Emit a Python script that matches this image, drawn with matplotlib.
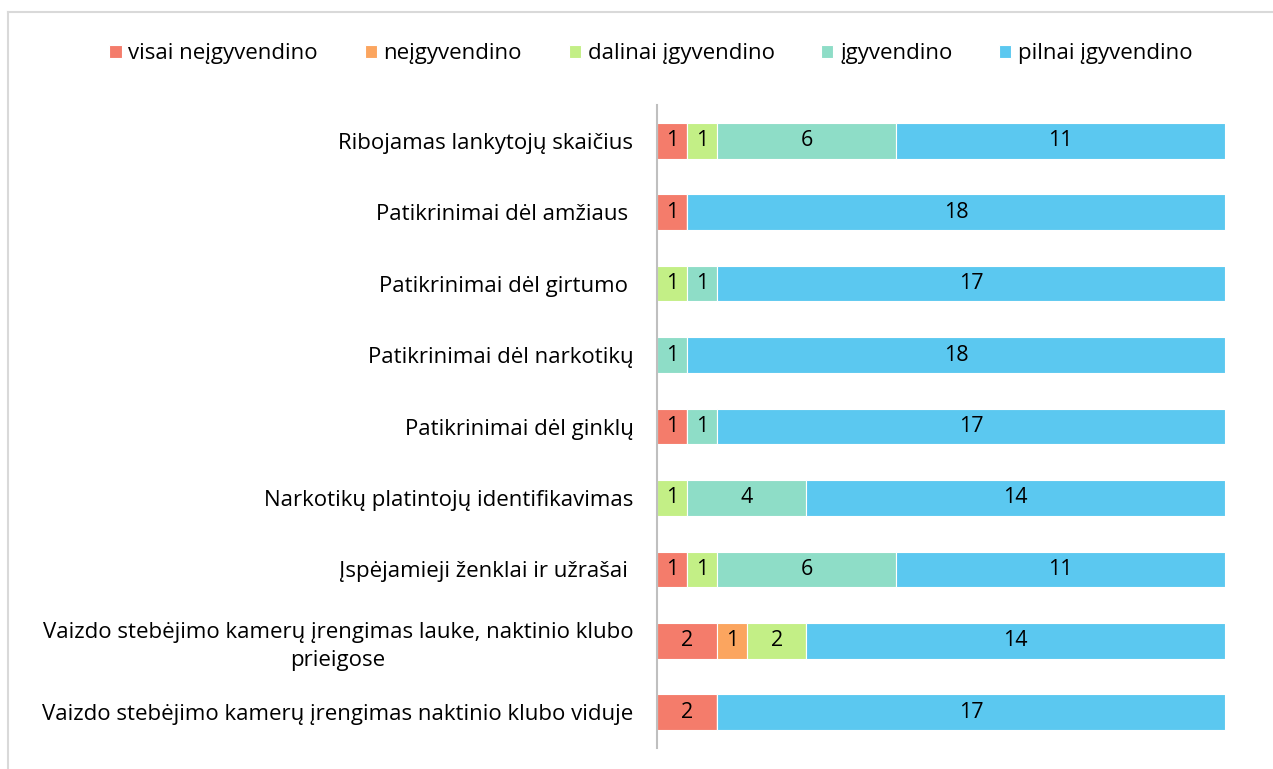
import matplotlib.pyplot as plt
from matplotlib.lines import Line2D

plt.rcParams['font.family'] = ['Open Sans', 'DejaVu Sans']

kategorijos = [
    "Ribojamas lankytojų skaičius",
    "Patikrinimai dėl amžiaus ",
    "Patikrinimai dėl girtumo ",
    "Patikrinimai dėl narkotikų",
    "Patikrinimai dėl ginklų",
    "Narkotikų platintojų identifikavimas",
    "Įspėjamieji ženklai ir užrašai ",
    "Vaizdo stebėjimo kamerų įrengimas lauke, naktinio klubo\nprieigose",
    "Vaizdo stebėjimo kamerų įrengimas naktinio klubo viduje",
]
serijos = ["visai neįgyvendino", "neįgyvendino", "dalinai įgyvendino",
           "įgyvendino", "pilnai įgyvendino"]
visai_neigyvendino = [1, 1, 0, 0, 1, 0, 1, 2, 2]
neigyvendino       = [0, 0, 0, 0, 0, 0, 0, 1, 0]
dalinai            = [1, 0, 1, 0, 0, 1, 1, 2, 0]
igyvendino         = [6, 0, 1, 1, 1, 4, 6, 0, 0]
pilnai             = [11, 18, 17, 18, 17, 14, 11, 14, 17]
spalvos = ['#F47C6B', '#FBA55F', '#C3EF86', '#8EDDC7', '#5BC8F0']

fig = plt.figure(figsize=(12.73, 7.69), dpi=100)
ax = fig.add_axes([657 / 1273, 1 - 748 / 769, (1225 - 657) / 1273, (748 - 105) / 769])

# remelis aplink figura
fig.add_artist(Line2D([8 / 1273, 8 / 1273], [0, 1 - 12 / 769], color='#D9D9D9', lw=1.5,
                      transform=fig.transFigure))
fig.add_artist(Line2D([8 / 1273, 1], [1 - 12 / 769, 1 - 12 / 769], color='#D9D9D9', lw=1.5,
                      transform=fig.transFigure))

y = list(range(len(kategorijos)))
kaire = [0] * len(kategorijos)
for vardas, reiksmes, spalva in zip(serijos,
                                    [visai_neigyvendino, neigyvendino, dalinai, igyvendino, pilnai],
                                    spalvos):
    juostos = ax.barh(y, reiksmes, left=kaire, height=0.5, color=spalva,
                      edgecolor='white', linewidth=0.8, label=vardas)
    for j, v in zip(juostos, reiksmes):
        if v > 0:
            ax.text(j.get_x() + j.get_width() / 2, j.get_y() + j.get_height() / 2, str(v),
                    ha='center', va='center', fontsize=15.5, color='black')
    kaire = [a + b for a, b in zip(kaire, reiksmes)]

ax.set_xlim(0, 19)
ax.set_ylim(len(kategorijos) - 0.5, -0.5)
ax.set_yticks(y)
ax.set_yticklabels(kategorijos, fontsize=16, multialignment='center', linespacing=1.4)
ax.tick_params(axis='y', length=0, pad=17)
ax.set_xticks([])
for s in ['top', 'right', 'bottom']:
    ax.spines[s].set_visible(False)
ax.spines['left'].set_color('#BFBFBF')
ax.spines['left'].set_linewidth(1.5)

fig.legend(loc='center', bbox_to_anchor=(651 / 1273, 1 - 54 / 769), ncol=5, frameon=False,
           fontsize=16, handlelength=0.55, handleheight=0.55, handletextpad=0.3,
           columnspacing=2.1)

fig.savefig('out.png', dpi=100)
